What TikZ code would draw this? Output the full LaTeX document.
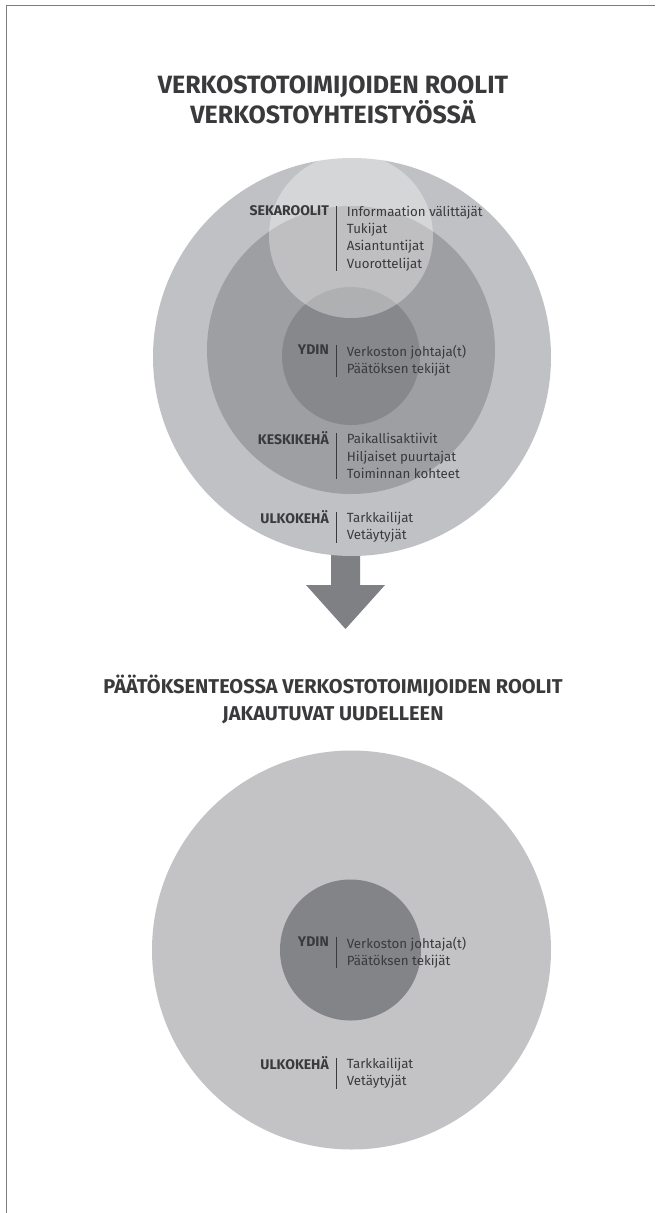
\documentclass[tikz,border=0pt]{standalone}
\usepackage{fontspec}
\setmainfont{Fira Sans}
\usetikzlibrary{positioning}

\definecolor{ringout}{RGB}{192,193,196}
\definecolor{ringmid}{RGB}{158,159,162}
\definecolor{ringcore}{RGB}{135,136,139}
\definecolor{arrowfill}{RGB}{127,128,132}
\definecolor{ink}{RGB}{58,58,60}
\definecolor{framegray}{RGB}{125,125,125}

\begin{document}
\begin{tikzpicture}[x=1pt, y=-1pt,
  ring/.style={circle, inner sep=0pt, draw=none},
  heading/.style={anchor=base, inner sep=0pt, text=ink, font=\bfseries\fontsize{25}{30}\selectfont},
  subheading/.style={heading, font=\bfseries\fontsize{20}{27}\selectfont},
  rolename/.style={anchor=east, inner sep=0pt, text=ink, font=\bfseries\fontsize{14}{17.3}\selectfont},
  rolelist/.style={anchor=north west, align=left, inner xsep=10pt, inner ysep=0pt, text=ink, font=\fontsize{13.3}{17.3}\selectfont},
  rolebar/.style={draw=ink, line width=1.1pt}]

  \useasboundingbox (0,0) rectangle (658,1213);

  %% frame
  \draw[framegray, line width=1.2pt] (6.5,1213) -- (6.5,5.5) -- (655,5.5);

  %% titles
  \node[heading] (headA1) at (333,93.6) {VERKOSTOTOIMIJOIDEN ROOLIT};
  \node[heading] (headA2) at (333,123.6) {VERKOSTOYHTEISTYÖSSÄ};
  \node[subheading] (headB1) at (333,693) {PÄÄTÖKSENTEOSSA VERKOSTOTOIMIJOIDEN ROOLIT};
  \node[subheading] (headB2) at (333,720) {JAKAUTUVAT UUDELLEEN};

  %% arrow between the two rings
  \fill[arrowfill] (331,548) -- (331,585) -- (306,585) -- (345.5,629)
    -- (385,585) -- (360,585) -- (360,548) -- cycle;

  %% rings, before
  \node[ring, fill=ringout, minimum size=398pt] (outerA) at (352,357) {};
  \node[ring, fill=ringmid, minimum size=288pt] (midA) at (351,350) {};
  \node[ring, fill=ringcore, minimum size=138pt] (coreA) at (351,356) {};
  \node[ring, fill=white, fill opacity=0.34, minimum size=164pt] (mixA) at (351,236) {};

  %% roles, before
  \node[rolename] (mixname) at (329,210.7) {SEKAROOLIT};
  \node[rolelist] (mixlist) at (336.7,205.6) {Informaation välittäjät\\Tukijat\\Asiantuntijat\\Vuorottelijat};
  \draw[rolebar] (mixlist.north west) -- (mixlist.south west);

  \node[rolename] (corenameA) at (329,350) {YDIN};
  \node[rolelist] (corelistA) at (336.7,344.9) {Verkoston johtaja(t)\\Päätöksen tekijät};
  \draw[rolebar] (corelistA.north west) -- (corelistA.south west);

  \node[rolename] (midname) at (329,438.3) {KESKIKEHÄ};
  \node[rolelist] (midlist) at (336.7,433.2) {Paikallisaktiivit\\Hiljaiset puurtajat\\Toiminnan kohteet};
  \draw[rolebar] (midlist.north west) -- (midlist.south west);

  \node[rolename] (outernameA) at (329,517) {ULKOKEHÄ};
  \node[rolelist] (outerlistA) at (336.7,511.9) {Tarkkailijat\\Vetäytyjät};
  \draw[rolebar] (outerlistA.north west) -- (outerlistA.south west);

  %% rings, after
  \node[ring, fill=ringout!96!white, minimum size=399pt] (outerB) at (351.5,950) {};
  \node[ring, fill=ringcore!97!black, minimum size=141pt] (coreB) at (350.5,950) {};

  %% roles, after
  \node[rolename] (corenameB) at (329,941.7) {YDIN};
  \node[rolelist] (corelistB) at (336.7,936.6) {Verkoston johtaja(t)\\Päätöksen tekijät};
  \draw[rolebar] (corelistB.north west) -- (corelistB.south west);

  \node[rolename] (outernameB) at (329,1063) {ULKOKEHÄ};
  \node[rolelist] (outerlistB) at (336.7,1057.9) {Tarkkailijat\\Vetäytyjät};
  \draw[rolebar] (outerlistB.north west) -- (outerlistB.south west);
\end{tikzpicture}
\end{document}
